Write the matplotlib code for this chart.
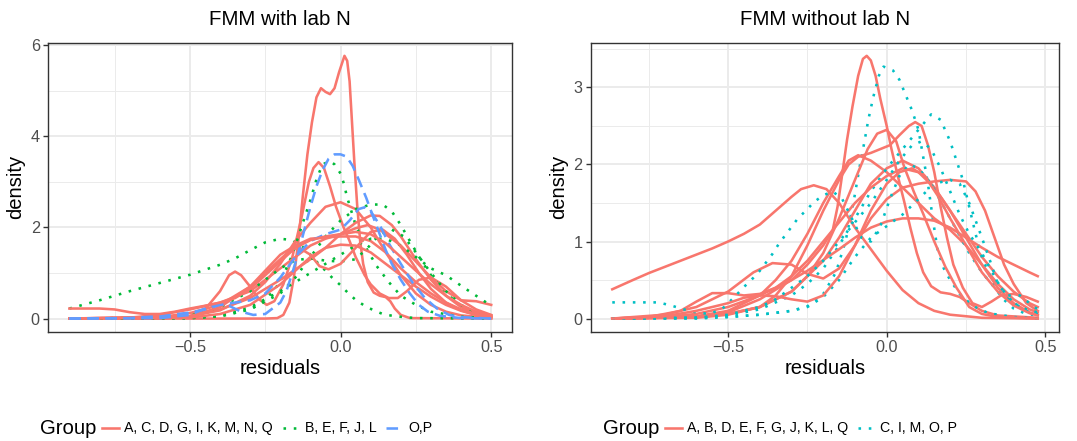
import matplotlib
matplotlib.use("Agg")
import matplotlib.pyplot as plt
from matplotlib.lines import Line2D

# ---------------------------------------------------------------- data
# Panel 1: "FMM with lab N" (labs in drawing order, H absent)
with_labs = ["A", "B", "C", "D", "E", "F", "G", "I", "J", "K", "L", "M", "N", "O", "P", "Q"]
with_groups = ["A, C, D, G, I, K, M, N, Q", "B, E, F, J, L", "O,P"]
with_lab_group = [0, 1, 0, 0, 1, 1, 0, 0, 1, 0, 1, 0, 0, 2, 2, 0]

with_x = [
    [-0.9, -0.25, -0.21, -0.19, -0.17, -0.155, -0.14, -0.125, -0.11, -0.095, -0.08, -0.065, -0.05, -0.035, -0.02, -0.005, 0.013, 0.022, 0.03, 0.038, 0.046, 0.055, 0.065, 0.075, 0.09, 0.11, 0.13, 0.15, 0.165, 0.18, 0.2, 0.23, 0.5],
    [-0.9, -0.8, -0.7, -0.6, -0.5, -0.4, -0.35, -0.3, -0.25, -0.2, -0.16, -0.12, -0.08, -0.05, -0.03, 0.0, 0.025, 0.05, 0.08, 0.11, 0.14, 0.18, 0.25, 0.5],
    [-0.9, -0.6, -0.5, -0.45, -0.4, -0.37, -0.35, -0.33, -0.3, -0.27, -0.245, -0.22, -0.19, -0.16, -0.13, -0.105, -0.09, -0.073, -0.055, -0.035, -0.015, 0.01, 0.03, 0.05, 0.08, 0.1, 0.13, 0.16, 0.19, 0.22, 0.26, 0.3, 0.35, 0.4, 0.45, 0.5],
    [-0.9, -0.6, -0.5, -0.4, -0.3, -0.25, -0.2, -0.15, -0.1, -0.05, 0.0, 0.05, 0.1, 0.15, 0.2, 0.25, 0.3, 0.35, 0.4, 0.5],
    [-0.9, -0.5, -0.4, -0.3, -0.25, -0.2, -0.16, -0.13, -0.1, -0.08, -0.06, -0.035, -0.02, 0.0, 0.012, 0.02, 0.03, 0.05, 0.08, 0.12, 0.16, 0.2, 0.25, 0.3, 0.4, 0.5],
    [-0.9, -0.5, -0.4, -0.3, -0.2, -0.15, -0.1, -0.05, 0.0, 0.05, 0.1, 0.14, 0.17, 0.2, 0.23, 0.27, 0.3, 0.35, 0.4, 0.45, 0.5],
    [-0.9, -0.6, -0.5, -0.4, -0.3, -0.2, -0.1, -0.05, 0.0, 0.05, 0.1, 0.13, 0.17, 0.2, 0.25, 0.3, 0.35, 0.4, 0.45, 0.5],
    [-0.9, -0.7, -0.6, -0.5, -0.4, -0.3, -0.2, -0.1, -0.05, 0.0, 0.05, 0.09, 0.13, 0.2, 0.25, 0.3, 0.35, 0.4, 0.45, 0.5],
    [-0.9, -0.6, -0.5, -0.4, -0.3, -0.25, -0.2, -0.15, -0.1, -0.05, 0.0, 0.05, 0.09, 0.13, 0.17, 0.21, 0.25, 0.3, 0.35, 0.4, 0.45, 0.5],
    [-0.9, -0.6, -0.5, -0.4, -0.3, -0.25, -0.2, -0.15, -0.1, -0.05, 0.0, 0.05, 0.1, 0.15, 0.2, 0.25, 0.3, 0.35, 0.4, 0.45, 0.5],
    [-0.9, -0.5, -0.4, -0.3, -0.2, -0.1, 0.0, 0.05, 0.1, 0.15, 0.2, 0.25, 0.3, 0.35, 0.4, 0.45, 0.5],
    [-0.9, -0.5, -0.4, -0.3, -0.25, -0.2, -0.15, -0.1, -0.07, -0.04, 0.0, 0.05, 0.1, 0.14, 0.18, 0.22, 0.26, 0.3, 0.35, 0.4, 0.45, 0.5],
    [-0.9, -0.5, -0.4, -0.3, -0.2, -0.15, -0.1, -0.05, 0.0, 0.05, 0.1, 0.15, 0.2, 0.25, 0.3, 0.35, 0.4, 0.45, 0.5],
    [-0.9, -0.6, -0.5, -0.45, -0.41, -0.37, -0.33, -0.29, -0.25, -0.22, -0.2, -0.18, -0.16, -0.14, -0.12, -0.1, -0.08, -0.06, -0.04, -0.02, 0.0, 0.02, 0.04, 0.06, 0.085, 0.11, 0.13, 0.15, 0.17, 0.2, 0.23, 0.26, 0.29, 0.33, 0.4, 0.5],
    [-0.9, -0.7, -0.6, -0.5, -0.45, -0.4, -0.35, -0.3, -0.25, -0.2, -0.15, -0.1, -0.05, 0.0, 0.03, 0.06, 0.08, 0.1, 0.13, 0.16, 0.2, 0.24, 0.28, 0.32, 0.36, 0.4, 0.5],
    [-0.9, -0.8, -0.75, -0.7, -0.65, -0.6, -0.55, -0.5, -0.45, -0.4, -0.35, -0.3, -0.25, -0.2, -0.15, -0.1, -0.05, 0.0, 0.05, 0.1, 0.15, 0.2, 0.25, 0.3, 0.35, 0.4, 0.45, 0.5],
]
with_y = [
    [0, 0, 0.01, 0.08, 0.35, 0.9, 1.7, 2.7, 3.6, 4.3, 4.85, 5.05, 4.97, 4.92, 5.05, 5.4, 5.76, 5.65, 5.2, 4.3, 3.4, 2.5, 1.7, 1.2, 0.8, 0.57, 0.5, 0.47, 0.38, 0.22, 0.08, 0.01, 0],
    [0.22, 0.4, 0.6, 0.78, 0.96, 1.18, 1.32, 1.5, 1.67, 1.75, 1.72, 1.55, 1.25, 1.05, 0.91, 0.73, 0.56, 0.41, 0.28, 0.18, 0.1, 0.05, 0.01, 0],
    [0, 0, 0.05, 0.2, 0.6, 0.95, 1.03, 0.95, 0.7, 0.42, 0.3, 0.38, 0.75, 1.35, 2.2, 3.0, 3.3, 3.43, 3.3, 2.9, 2.45, 2.0, 1.7, 1.35, 0.95, 0.75, 0.55, 0.45, 0.45, 0.6, 0.85, 0.9, 0.7, 0.4, 0.2, 0.08],
    [0, 0.01, 0.05, 0.18, 0.5, 0.8, 1.2, 1.7, 2.1, 2.45, 2.55, 2.4, 2.0, 1.45, 0.95, 0.55, 0.3, 0.15, 0.07, 0.01],
    [0, 0.01, 0.05, 0.2, 0.4, 0.8, 1.4, 2.0, 2.6, 3.05, 3.38, 3.45, 3.38, 3.18, 2.94, 2.7, 2.48, 2.05, 1.6, 1.15, 0.8, 0.5, 0.3, 0.15, 0.04, 0.01],
    [0, 0.01, 0.05, 0.2, 0.55, 0.9, 1.35, 1.8, 2.15, 2.4, 2.5, 2.5, 2.35, 2.05, 1.7, 1.25, 0.95, 0.55, 0.28, 0.12, 0.05],
    [0, 0.01, 0.05, 0.2, 0.45, 0.85, 1.3, 1.55, 1.85, 2.1, 2.26, 2.25, 2.05, 1.8, 1.3, 0.85, 0.5, 0.25, 0.12, 0.05],
    [0, 0.02, 0.08, 0.2, 0.35, 0.6, 1.1, 1.6, 1.75, 1.85, 1.98, 2.05, 1.95, 1.6, 1.25, 0.9, 0.6, 0.4, 0.38, 0.3],
    [0, 0.02, 0.08, 0.25, 0.6, 0.85, 1.1, 1.28, 1.32, 1.27, 1.25, 1.3, 1.55, 1.85, 1.95, 1.8, 1.45, 1.0, 0.6, 0.3, 0.12, 0.05],
    [0, 0.03, 0.12, 0.3, 0.7, 1.0, 1.3, 1.6, 1.75, 1.78, 1.8, 1.8, 1.7, 1.45, 1.1, 0.8, 0.55, 0.35, 0.2, 0.1, 0.05],
    [0, 0.02, 0.08, 0.25, 0.6, 1.0, 1.4, 1.6, 1.75, 1.75, 1.6, 1.35, 1.1, 0.95, 0.72, 0.5, 0.28],
    [0, 0.05, 0.25, 0.7, 1.05, 1.4, 1.6, 1.4, 1.15, 1.08, 1.2, 1.55, 1.9, 1.95, 1.75, 1.4, 1.0, 0.65, 0.35, 0.18, 0.08, 0.03],
    [0, 0.02, 0.1, 0.3, 0.75, 1.05, 1.35, 1.55, 1.62, 1.6, 1.45, 1.2, 0.95, 0.7, 0.48, 0.3, 0.17, 0.08, 0.03],
    [0, 0.01, 0.08, 0.22, 0.32, 0.28, 0.15, 0.08, 0.1, 0.25, 0.35, 0.6, 1.0, 1.45, 1.95, 2.45, 2.9, 3.25, 3.5, 3.6, 3.6, 3.55, 3.35, 3.05, 2.65, 2.2, 1.85, 1.5, 1.2, 0.85, 0.55, 0.3, 0.15, 0.06, 0.01, 0],
    [0, 0.01, 0.06, 0.13, 0.2, 0.3, 0.35, 0.4, 0.55, 0.9, 1.35, 1.7, 1.85, 1.95, 2.15, 2.4, 2.44, 2.35, 2.05, 1.65, 1.2, 0.78, 0.45, 0.22, 0.08, 0.03, 0],
    [0.22, 0.22, 0.2, 0.14, 0.1, 0.1, 0.15, 0.22, 0.28, 0.35, 0.45, 0.65, 0.95, 1.25, 1.55, 1.72, 1.8, 1.85, 1.9, 1.85, 1.65, 1.35, 1.05, 0.75, 0.5, 0.3, 0.15, 0.07],
]

# Panel 2: "FMM without lab N"
without_labs = ["A", "B", "C", "D", "E", "F", "G", "I", "J", "K", "L", "M", "O", "P", "Q"]
without_groups = ["A, B, D, E, F, G, J, K, L, Q", "C, I, M, O, P"]
without_lab_group = [0, 0, 1, 0, 0, 0, 0, 1, 0, 0, 0, 1, 1, 1, 0]

without_x = [
    [-0.865, -0.8, -0.75, -0.7, -0.65, -0.6, -0.55, -0.5, -0.45, -0.4, -0.35, -0.3, -0.27, -0.23, -0.19, -0.15, -0.1, -0.05, 0.0, 0.05, 0.1, 0.15, 0.2, 0.3, 0.476],
    [-0.865, -0.6, -0.5, -0.4, -0.3, -0.25, -0.2, -0.17, -0.155, -0.14, -0.125, -0.108, -0.09, -0.075, -0.063, -0.05, -0.035, -0.02, 0.0, 0.015, 0.035, 0.055, 0.075, 0.095, 0.115, 0.14, 0.17, 0.2, 0.23, 0.26, 0.3, 0.35, 0.476],
    [-0.865, -0.6, -0.5, -0.4, -0.3, -0.25, -0.2, -0.16, -0.13, -0.105, -0.084, -0.07, -0.058, -0.042, -0.025, -0.01, 0.02, 0.04, 0.06, 0.08, 0.1, 0.115, 0.13, 0.145, 0.16, 0.18, 0.2, 0.23, 0.27, 0.32, 0.4, 0.476],
    [-0.865, -0.6, -0.5, -0.4, -0.3, -0.25, -0.2, -0.15, -0.1, -0.06, -0.03, 0.0, 0.03, 0.055, 0.085, 0.115, 0.15, 0.185, 0.22, 0.26, 0.3, 0.35, 0.476],
    [-0.865, -0.6, -0.5, -0.4, -0.35, -0.3, -0.25, -0.2, -0.15, -0.12, -0.09, -0.05, -0.02, 0.01, 0.04, 0.07, 0.09, 0.11, 0.13, 0.15, 0.17, 0.19, 0.21, 0.24, 0.27, 0.3, 0.33, 0.36, 0.4, 0.44, 0.476],
    [-0.865, -0.6, -0.5, -0.4, -0.3, -0.2, -0.15, -0.1, -0.05, 0.0, 0.05, 0.1, 0.15, 0.2, 0.25, 0.3, 0.35, 0.4, 0.45, 0.476],
    [-0.865, -0.6, -0.5, -0.4, -0.35, -0.3, -0.25, -0.2, -0.15, -0.12, -0.09, -0.05, 0.0, 0.05, 0.1, 0.15, 0.2, 0.25, 0.3, 0.35, 0.4, 0.45, 0.476],
    [-0.865, -0.6, -0.5, -0.4, -0.3, -0.25, -0.2, -0.15, -0.1, -0.05, 0.0, 0.05, 0.1, 0.14, 0.17, 0.2, 0.22, 0.24, 0.26, 0.28, 0.3, 0.33, 0.36, 0.4, 0.44, 0.476],
    [-0.865, -0.7, -0.6, -0.5, -0.4, -0.35, -0.3, -0.25, -0.2, -0.15, -0.1, -0.05, 0.0, 0.05, 0.1, 0.15, 0.2, 0.25, 0.3, 0.35, 0.4, 0.45, 0.476],
    [-0.865, -0.7, -0.6, -0.5, -0.42, -0.36, -0.3, -0.25, -0.2, -0.15, -0.1, -0.05, 0.0, 0.05, 0.1, 0.15, 0.2, 0.25, 0.28, 0.31, 0.34, 0.37, 0.4, 0.44, 0.476],
    [-0.865, -0.75, -0.65, -0.6, -0.55, -0.5, -0.45, -0.4, -0.35, -0.3, -0.25, -0.2, -0.15, -0.1, -0.05, 0.0, 0.05, 0.1, 0.15, 0.2, 0.25, 0.3, 0.35, 0.4, 0.45, 0.476],
    [-0.865, -0.8, -0.72, -0.68, -0.64, -0.6, -0.56, -0.52, -0.48, -0.45, -0.42, -0.4, -0.38, -0.36, -0.34, -0.32, -0.3, -0.28, -0.25, -0.23, -0.2, -0.17, -0.14, -0.11, -0.08, -0.05, -0.02, 0.01, 0.04, 0.07, 0.1, 0.14, 0.18, 0.22, 0.26, 0.3, 0.35, 0.4, 0.44, 0.476],
    [-0.865, -0.6, -0.5, -0.4, -0.35, -0.3, -0.25, -0.2, -0.15, -0.1, -0.05, 0.0, 0.04, 0.08, 0.11, 0.14, 0.17, 0.2, 0.23, 0.26, 0.3, 0.33, 0.36, 0.4, 0.44, 0.476],
    [-0.865, -0.6, -0.5, -0.4, -0.3, -0.25, -0.2, -0.15, -0.1, -0.05, 0.0, 0.05, 0.1, 0.15, 0.2, 0.23, 0.26, 0.3, 0.33, 0.35, 0.38, 0.42, 0.45, 0.476],
    [-0.865, -0.7, -0.6, -0.5, -0.45, -0.4, -0.35, -0.3, -0.25, -0.2, -0.15, -0.1, -0.05, 0.0, 0.04, 0.08, 0.12, 0.16, 0.2, 0.25, 0.3, 0.35, 0.4, 0.45, 0.476],
]
without_y = [
    [0.38, 0.5, 0.59, 0.67, 0.75, 0.83, 0.91, 1.0, 1.1, 1.22, 1.4, 1.58, 1.68, 1.73, 1.68, 1.5, 1.18, 0.9, 0.62, 0.37, 0.2, 0.1, 0.05, 0.01, 0.0],
    [0, 0.02, 0.08, 0.25, 0.5, 0.7, 0.95, 1.15, 1.45, 1.88, 2.32, 2.75, 3.15, 3.37, 3.41, 3.35, 3.15, 2.85, 2.5, 2.2, 1.85, 1.52, 1.17, 0.85, 0.6, 0.42, 0.34, 0.32, 0.28, 0.2, 0.1, 0.04, 0.01],
    [0, 0.0, 0.02, 0.05, 0.1, 0.16, 0.32, 0.6, 1.0, 1.5, 2.0, 2.3, 2.58, 2.88, 3.15, 3.27, 3.22, 3.1, 2.9, 2.7, 2.45, 2.1, 1.75, 1.3, 0.9, 0.65, 0.5, 0.32, 0.17, 0.07, 0.02, 0.0],
    [0, 0.01, 0.05, 0.15, 0.35, 0.55, 0.85, 1.3, 1.8, 2.2, 2.4, 2.45, 2.3, 1.97, 1.65, 1.36, 1.0, 0.67, 0.4, 0.15, 0.06, 0.02, 0.0],
    [0, 0.02, 0.06, 0.15, 0.3, 0.55, 0.95, 1.4, 1.8, 2.0, 2.1, 2.15, 2.2, 2.25, 2.38, 2.5, 2.55, 2.5, 2.25, 1.9, 1.45, 1.05, 0.7, 0.4, 0.2, 0.15, 0.22, 0.3, 0.32, 0.28, 0.22],
    [0, 0.02, 0.06, 0.15, 0.35, 0.75, 1.05, 1.4, 1.75, 1.95, 2.05, 1.95, 1.7, 1.4, 1.1, 0.8, 0.55, 0.35, 0.2, 0.15],
    [0, 0.03, 0.1, 0.3, 0.5, 0.75, 1.1, 1.5, 1.85, 2.05, 2.12, 2.05, 1.9, 1.7, 1.5, 1.3, 1.15, 0.95, 0.7, 0.45, 0.25, 0.12, 0.08],
    [0, 0.01, 0.04, 0.12, 0.3, 0.45, 0.65, 0.95, 1.3, 1.65, 1.95, 2.2, 2.45, 2.65, 2.58, 2.3, 2.05, 1.8, 1.45, 1.1, 0.8, 0.5, 0.28, 0.13, 0.06, 0.04],
    [0, 0.02, 0.06, 0.15, 0.3, 0.4, 0.5, 0.62, 0.76, 0.9, 1.05, 1.18, 1.26, 1.3, 1.3, 1.27, 1.18, 1.05, 0.92, 0.8, 0.7, 0.6, 0.55],
    [0, 0.05, 0.15, 0.35, 0.6, 0.72, 0.7, 0.58, 0.52, 0.65, 0.95, 1.3, 1.55, 1.7, 1.75, 1.78, 1.8, 1.78, 1.65, 1.4, 1.05, 0.7, 0.45, 0.2, 0.1],
    [0, 0.02, 0.1, 0.22, 0.33, 0.33, 0.3, 0.32, 0.4, 0.55, 0.75, 1.0, 1.25, 1.5, 1.7, 1.85, 1.95, 1.9, 1.7, 1.4, 1.05, 0.7, 0.4, 0.2, 0.08, 0.05],
    [0.21, 0.21, 0.21, 0.17, 0.12, 0.08, 0.06, 0.12, 0.28, 0.41, 0.53, 0.62, 0.73, 0.84, 0.97, 1.08, 1.19, 1.3, 1.42, 1.51, 1.6, 1.65, 1.55, 1.3, 1.05, 1.0, 1.2, 1.55, 1.85, 2.0, 1.95, 1.75, 1.45, 1.15, 0.85, 0.6, 0.35, 0.2, 0.12, 0.08],
    [0, 0.01, 0.05, 0.15, 0.25, 0.4, 0.55, 0.75, 1.0, 1.25, 1.5, 1.8, 2.05, 2.25, 2.3, 2.2, 1.95, 1.65, 1.35, 1.1, 0.85, 0.62, 0.4, 0.2, 0.1, 0.06],
    [0, 0.01, 0.02, 0.05, 0.1, 0.15, 0.28, 0.5, 0.8, 1.05, 1.2, 1.35, 1.55, 1.75, 1.8, 1.75, 1.5, 1.05, 0.7, 0.45, 0.3, 0.3, 0.2, 0.12],
    [0, 0.03, 0.1, 0.2, 0.27, 0.3, 0.29, 0.25, 0.22, 0.3, 0.55, 0.95, 1.4, 1.75, 1.9, 1.95, 1.85, 1.6, 1.3, 0.95, 0.6, 0.35, 0.17, 0.07, 0.04],
]

# ---------------------------------------------------------------- styling
W, H, DPI = 1077, 441, 100
FONT = "Liberation Sans"
plt.rcParams["font.family"] = [FONT, "DejaVu Sans"]

with_colors = ["#F8766D", "#00BA38", "#619CFF"]
with_styles = ["-", (0, (1, 3)), (0, (4.5, 2.5))]
without_colors = ["#F8766D", "#00BFC4"]
without_styles = ["-", (0, (1, 3))]
LW = 1.85

fig = plt.figure(figsize=(W / DPI, H / DPI), dpi=DPI)
fig.patch.set_facecolor("white")


def px_axes(x0, x1, y0, y1):
    return fig.add_axes([x0 / W, 1 - y1 / H, (x1 - x0) / W, (y1 - y0) / H])


def style_axes(ax, xs, ys, yticks, yminor, title):
    xmin = min(min(v) for v in xs)
    xmax = max(max(v) for v in xs)
    ymax = max(max(v) for v in ys)
    dx = 0.05 * (xmax - xmin)
    ax.set_xlim(xmin - dx, xmax + dx)
    ax.set_ylim(-0.05 * ymax, ymax * 1.05)
    ax.set_xticks([-0.5, 0.0, 0.5])
    ax.set_xticklabels(["\u22120.5", "0.0", "0.5"])
    ax.set_xticks([-0.75, -0.25, 0.25], minor=True)
    ax.set_yticks(yticks)
    ax.set_yticklabels([str(t) for t in yticks])
    ax.set_yticks(yminor, minor=True)
    ax.grid(which="major", color="#EBEBEB", lw=1.4, zorder=0)
    ax.grid(which="minor", color="#EBEBEB", lw=0.7, zorder=0)
    ax.set_axisbelow(True)
    for s in ax.spines.values():
        s.set_color("#333333")
        s.set_linewidth(1.0)
    ax.tick_params(which="major", length=3.6, width=1.0, color="#333333",
                   labelsize=11.7, labelcolor="#4D4D4D", pad=2.5)
    ax.tick_params(which="minor", length=0)
    ax.set_xlabel("residuals", fontsize=14.6, color="black", labelpad=3)
    ax.set_ylabel("density", fontsize=14.6, color="black", labelpad=4)
    ax.set_title(title, fontsize=14.8, color="black", pad=12.5)


ax1 = px_axes(48.3, 512.3, 42.7, 331.7)
ax2 = px_axes(591, 1059, 42.7, 331.7)

for i, lab in enumerate(with_labs):
    g = with_lab_group[i]
    ax1.plot(with_x[i], with_y[i], color=with_colors[g], ls=with_styles[g], lw=LW,
             solid_joinstyle="round", zorder=3)
for i, lab in enumerate(without_labs):
    g = without_lab_group[i]
    ax2.plot(without_x[i], without_y[i], color=without_colors[g], ls=without_styles[g], lw=LW,
             solid_joinstyle="round", zorder=3)

style_axes(ax1, with_x, with_y, [0, 2, 4, 6], [1, 3, 5], "FMM with lab N")
style_axes(ax2, without_x, without_y, [0, 1, 2, 3], [0.5, 1.5, 2.5, 3.5], "FMM without lab N")


# ---------------------------------------------------------------- legends
def draw_legend(center_px, y_px, groups, colors, styles):
    fig.canvas.draw()
    r = fig.canvas.get_renderer()
    key_len, gap_title, gap_key, gap_item = 17, 6, 5, 10
    t = fig.text(0, 0, "Group", fontsize=14.6, va="center", ha="left")
    w_title = t.get_window_extent(r).width
    texts = []
    total = w_title + gap_title
    for k, lbl in enumerate(groups):
        tt = fig.text(0, 0, lbl, fontsize=10.2, va="center", ha="left")
        w = tt.get_window_extent(r).width
        texts.append((tt, w))
        total += key_len + gap_key + w + (gap_item if k < len(groups) - 1 else 0)
    x = center_px - total / 2
    yf = 1 - y_px / H
    t.set_position((x / W, yf))
    x += w_title + gap_title
    for k, (tt, w) in enumerate(texts):
        fig.add_artist(Line2D([x / W, (x + key_len) / W], [yf, yf], transform=fig.transFigure,
                              color=colors[k], ls=styles[k], lw=LW))
        x += key_len + gap_key
        tt.set_position((x / W, yf))
        x += w + gap_item


draw_legend(236, 428, with_groups, with_colors, with_styles)
draw_legend(780, 428, without_groups, without_colors, without_styles)

fig.savefig("out.png", dpi=DPI, facecolor="white")
